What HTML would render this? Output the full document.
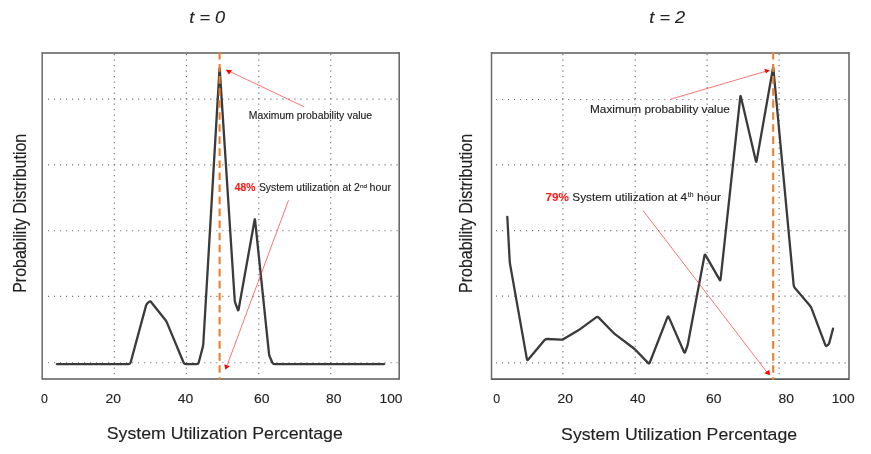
<!DOCTYPE html>
<html lang="en"><head><meta charset="utf-8"><title>Probability distribution of system utilization</title>
<style>html,body{margin:0;padding:0;background:#fff;}body{width:871px;height:454px;overflow:hidden;}svg{display:block;}</style>
</head><body>
<svg width="871" height="454" viewBox="0 0 871 454" font-family="'Liberation Sans', Arial, Helvetica, sans-serif" fill="#222">
<defs><style>text{stroke:#222;stroke-width:0.12px} .r{fill:#ff1a1a;stroke:#ff1a1a;stroke-width:0.08px;font-weight:bold}</style><filter id="bl" x="-5%" y="-5%" width="110%" height="110%"><feGaussianBlur stdDeviation="0.72"/></filter></defs>
<rect width="871" height="454" fill="#ffffff"/>
<!-- left chart -->
<line x1="47.95" y1="99.1" x2="398.2" y2="99.1" stroke="#747474" stroke-width="1.15" stroke-dasharray="1.15 4.86"/>
<line x1="47.95" y1="164.9" x2="398.2" y2="164.9" stroke="#747474" stroke-width="1.15" stroke-dasharray="1.15 4.86"/>
<line x1="47.95" y1="230.7" x2="398.2" y2="230.7" stroke="#747474" stroke-width="1.15" stroke-dasharray="1.15 4.86"/>
<line x1="47.95" y1="296.3" x2="398.2" y2="296.3" stroke="#747474" stroke-width="1.15" stroke-dasharray="1.15 4.86"/>
<line x1="47.95" y1="362.7" x2="398.2" y2="362.7" stroke="#747474" stroke-width="1.15" stroke-dasharray="1.15 4.86"/>
<line x1="114.3" y1="54.05" x2="114.3" y2="378" stroke="#747474" stroke-width="1.15" stroke-dasharray="1.15 4.35"/>
<line x1="186.4" y1="54.05" x2="186.4" y2="378" stroke="#747474" stroke-width="1.15" stroke-dasharray="1.15 4.35"/>
<line x1="258.8" y1="54.05" x2="258.8" y2="378" stroke="#747474" stroke-width="1.15" stroke-dasharray="1.15 4.35"/>
<line x1="330.7" y1="54.05" x2="330.7" y2="378" stroke="#747474" stroke-width="1.15" stroke-dasharray="1.15 4.35"/>
<path d="M56.8,364.1 L128.50,364.10 Q130.2,364.1 130.64,362.46 L145.96,305.84 Q146.4,304.2 147.59,303.17 L149.01,301.93 Q150.2,300.9 151.26,302.23 L165.24,319.77 Q166.3,321.1 166.95,322.67 L183.55,362.53 Q184.2,364.1 185.90,364.10 L196.60,364.10 Q198.3,364.1 198.73,362.46 L202.77,347.14 Q203.2,345.5 203.30,343.80 L219.50,68.90 Q219.6,67.2 219.71,68.90 L234.69,299.80 Q234.8,301.5 235.38,303.10 L237.72,309.50 Q238.3,311.1 238.60,309.43 L254.60,220.07 Q254.9,218.4 255.08,220.09 L269.02,353.81 Q269.2,355.5 269.89,357.05 L272.31,362.55 Q273,364.1 274.70,364.10 L384.2,364.1" fill="none" stroke="#3a3a3a" stroke-width="2.3" stroke-linejoin="round" stroke-linecap="round" filter="url(#bl)"/>
<line x1="42.2" y1="53" x2="399.2" y2="53" stroke="#848484" stroke-width="2"/>
<line x1="42.2" y1="52.1" x2="42.2" y2="379.8" stroke="#6a6a6a" stroke-width="1.5"/>
<line x1="399.2" y1="52.1" x2="399.2" y2="379.8" stroke="#6a6a6a" stroke-width="1.6"/>
<line x1="42.2" y1="379" x2="399.2" y2="379" stroke="#5a5a5a" stroke-width="1.7"/>
<line x1="219.6" y1="52" x2="219.6" y2="379.7" stroke="#e8802e" stroke-width="2.1" stroke-dasharray="7.6 4.444"/>

<line x1="304.3" y1="106.9" x2="230" y2="71.6" stroke="#ff2a2a" stroke-width="0.65"/>
<polygon points="225.7,69.8 232,70.1 229,74.5" fill="#ff0000"/>
<line x1="288.5" y1="200.3" x2="227.3" y2="364.8" stroke="#ff2a2a" stroke-width="0.65"/>
<polygon points="224.3,364.3 229.8,366.3 225.3,369.8" fill="#ff0000"/>

<!-- right chart -->
<line x1="495.95" y1="99.5" x2="848" y2="99.5" stroke="#747474" stroke-width="1.15" stroke-dasharray="1.15 4.86"/>
<line x1="495.95" y1="164.8" x2="848" y2="164.8" stroke="#747474" stroke-width="1.15" stroke-dasharray="1.15 4.86"/>
<line x1="495.95" y1="230.6" x2="848" y2="230.6" stroke="#747474" stroke-width="1.15" stroke-dasharray="1.15 4.86"/>
<line x1="495.95" y1="296.1" x2="848" y2="296.1" stroke="#747474" stroke-width="1.15" stroke-dasharray="1.15 4.86"/>
<line x1="495.95" y1="362.9" x2="848" y2="362.9" stroke="#747474" stroke-width="1.15" stroke-dasharray="1.15 4.86"/>
<line x1="562.9" y1="54.05" x2="562.9" y2="378.2" stroke="#747474" stroke-width="1.15" stroke-dasharray="1.15 4.35"/>
<line x1="635.2" y1="54.05" x2="635.2" y2="378.2" stroke="#747474" stroke-width="1.15" stroke-dasharray="1.15 4.35"/>
<line x1="707.1" y1="54.05" x2="707.1" y2="378.2" stroke="#747474" stroke-width="1.15" stroke-dasharray="1.15 4.35"/>
<line x1="779.1" y1="54.05" x2="779.1" y2="378.2" stroke="#747474" stroke-width="1.15" stroke-dasharray="1.15 4.35"/>
<path d="M507.3,216.8 L509.71,261.00 Q509.8,262.7 510.10,264.37 L526.90,359.13 Q527.2,360.8 528.29,359.50 L544.41,340.20 Q545.5,338.9 547.20,338.98 L560.90,339.62 Q562.6,339.7 564.06,338.82 L577.94,330.48 Q579.4,329.6 580.77,328.60 L596.13,317.40 Q597.5,316.4 598.69,317.62 L613.41,332.68 Q614.6,333.9 615.96,334.92 L633.34,347.98 Q634.7,349 635.88,350.23 L648.02,362.87 Q649.2,364.1 649.82,362.52 L667.48,317.18 Q668.1,315.6 668.78,317.16 L684.02,351.94 Q684.7,353.5 685.27,351.90 L687.13,346.60 Q687.7,345 688.01,343.33 L704.49,255.57 Q704.8,253.9 705.65,255.37 L719.55,279.63 Q720.4,281.1 720.58,279.41 L740.32,96.69 Q740.5,95 740.89,96.66 L755.91,161.14 Q756.3,162.8 756.59,161.13 L772.91,68.47 Q773.2,66.8 773.36,68.49 L793.64,284.91 Q793.8,286.6 794.90,287.89 L809.80,305.41 Q810.9,306.7 811.50,308.29 L825.30,344.91 Q825.9,346.5 826.87,345.72 L828.03,344.78 Q829,344 829.43,342.36 L833,328.7" fill="none" stroke="#3a3a3a" stroke-width="2.3" stroke-linejoin="round" stroke-linecap="round" filter="url(#bl)"/>
<line x1="491.5" y1="53" x2="849" y2="53" stroke="#848484" stroke-width="2"/>
<line x1="491.5" y1="52.1" x2="491.5" y2="380.0" stroke="#6a6a6a" stroke-width="1.5"/>
<line x1="849" y1="52.1" x2="849" y2="380.0" stroke="#6a6a6a" stroke-width="1.6"/>
<line x1="491.5" y1="379.2" x2="849" y2="379.2" stroke="#5a5a5a" stroke-width="1.7"/>
<line x1="773.2" y1="52" x2="773.2" y2="379.9" stroke="#e8802e" stroke-width="2.1" stroke-dasharray="7.6 4.444"/>

<line x1="670.7" y1="99.2" x2="766" y2="71.2" stroke="#ff2a2a" stroke-width="0.65"/>
<polygon points="764.3,68.8 769.8,70.3 766,73.6" fill="#ff0000"/>
<line x1="643" y1="210.5" x2="767" y2="372.3" stroke="#ff2a2a" stroke-width="0.65"/>
<polygon points="769.3,369.8 764.3,373.3 770.1,375.3" fill="#ff0000"/>

<!-- titles -->
<text x="189.3" y="23" font-size="15.6" font-style="italic" textLength="35.9" lengthAdjust="spacingAndGlyphs">t = 0</text>
<text x="649.3" y="22.8" font-size="15.6" font-style="italic" textLength="35.9" lengthAdjust="spacingAndGlyphs">t = 2</text>
<!-- y labels -->
<text transform="translate(26.2,292.8) scale(1.12,1) rotate(-90)" font-size="16">Probability Distribution</text>
<text transform="translate(471.7,292.9) scale(1.12,1) rotate(-90)" font-size="16">Probability Distribution</text>
<!-- x labels -->
<text x="106.8" y="439.4" font-size="15.7" textLength="236" lengthAdjust="spacingAndGlyphs">System Utilization Percentage</text>
<text x="561.1" y="439.7" font-size="15.7" textLength="236" lengthAdjust="spacingAndGlyphs">System Utilization Percentage</text>
<!-- ticks -->
<text x="41.1" y="402.5" font-size="12.4" textLength="6.9" lengthAdjust="spacingAndGlyphs">0</text>
<text x="105.5" y="402.5" font-size="12.4" textLength="15.5" lengthAdjust="spacingAndGlyphs">20</text>
<text x="177.8" y="402.5" font-size="12.4" textLength="15.5" lengthAdjust="spacingAndGlyphs">40</text>
<text x="253.9" y="402.5" font-size="12.4" textLength="15.5" lengthAdjust="spacingAndGlyphs">60</text>
<text x="326.1" y="402.5" font-size="12.4" textLength="15.5" lengthAdjust="spacingAndGlyphs">80</text>
<text x="379.5" y="402.5" font-size="12.4" textLength="23.0" lengthAdjust="spacingAndGlyphs">100</text>
<text x="493.2" y="402.7" font-size="12.4" textLength="6.9" lengthAdjust="spacingAndGlyphs">0</text>
<text x="557.5" y="402.7" font-size="12.4" textLength="15.5" lengthAdjust="spacingAndGlyphs">20</text>
<text x="629.9" y="402.7" font-size="12.4" textLength="15.5" lengthAdjust="spacingAndGlyphs">40</text>
<text x="706.0" y="402.7" font-size="12.4" textLength="15.5" lengthAdjust="spacingAndGlyphs">60</text>
<text x="778.4" y="402.7" font-size="12.4" textLength="15.5" lengthAdjust="spacingAndGlyphs">80</text>
<text x="831.7" y="402.7" font-size="12.4" textLength="23.0" lengthAdjust="spacingAndGlyphs">100</text>
<!-- annotations -->
<text x="248.8" y="118.9" font-size="10" textLength="123.3" lengthAdjust="spacingAndGlyphs">Maximum probability value</text>
<text x="590" y="112.9" font-size="11" textLength="139.8" lengthAdjust="spacingAndGlyphs">Maximum probability value</text>
<text class="r" x="234.8" y="191.3" font-size="10" textLength="20.6" lengthAdjust="spacingAndGlyphs">48%</text>
<text x="258.9" y="191.3" font-size="10" textLength="100.9" lengthAdjust="spacingAndGlyphs">System utilization at 2</text>
<text x="359.9" y="187.6" font-size="6.2" textLength="7.1" lengthAdjust="spacingAndGlyphs">nd</text>
<text x="369.6" y="191.3" font-size="10" textLength="21.4" lengthAdjust="spacingAndGlyphs">hour</text>
<text class="r" x="545.6" y="201.2" font-size="11" textLength="23.4" lengthAdjust="spacingAndGlyphs">79%</text>
<text x="572.3" y="201.2" font-size="11" textLength="114.9" lengthAdjust="spacingAndGlyphs">System utilization at 4</text>
<text x="687.8" y="197" font-size="6.6" textLength="5.7" lengthAdjust="spacingAndGlyphs">th</text>
<text x="696.9" y="201.2" font-size="11" textLength="24" lengthAdjust="spacingAndGlyphs">hour</text>
</svg>
</body></html>
